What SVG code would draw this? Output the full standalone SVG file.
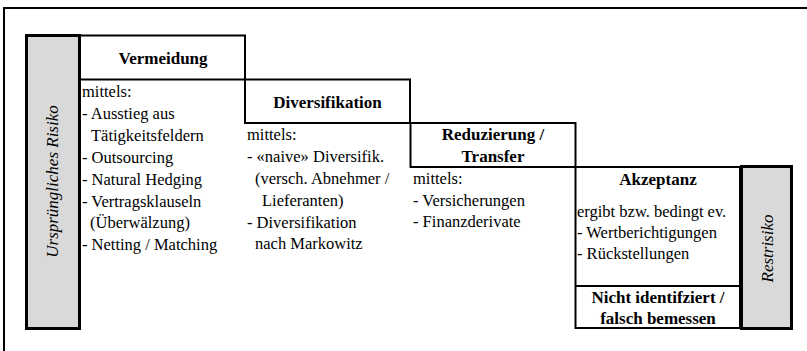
<svg xmlns="http://www.w3.org/2000/svg" width="807" height="351" viewBox="0 0 807 351">
<style>
.frame{fill:none;stroke:#000;stroke-width:2}
.box{fill:#fff;stroke:#000;stroke-width:2}
.gray{fill:#d9d9d9;stroke:#000;stroke-width:3}
.line{stroke:#000;stroke-width:2}
.h{font-size:17px;font-weight:bold;text-anchor:middle;fill:#000}
.b{font-size:16.5px;fill:#000}
.v{font-size:17px;font-style:italic;text-anchor:middle;fill:#000}
</style>
<rect width="807" height="351" fill="#fff"/>
<g id="frame"><rect class="frame" x="4" y="8" width="830" height="380"/></g>
<g id="connectors"></g>
<g id="vermeidung">
<rect class="box" x="80" y="35.5" width="165" height="44"/>
<text class="h" font-family="Liberation Serif, serif" x="163" y="64">Vermeidung</text>
<text class="b" font-family="Liberation Serif, serif" x="82" y="97">mittels:</text>
<text class="b" font-family="Liberation Serif, serif" x="82" y="119">- Ausstieg aus</text>
<text class="b" font-family="Liberation Serif, serif" x="91" y="141">Tätigkeitsfeldern</text>
<text class="b" font-family="Liberation Serif, serif" x="82" y="163">- Outsourcing</text>
<text class="b" font-family="Liberation Serif, serif" x="82" y="185">- Natural Hedging</text>
<text class="b" font-family="Liberation Serif, serif" x="82" y="207">- Vertragsklauseln</text>
<text class="b" font-family="Liberation Serif, serif" x="90" y="228">(Überwälzung)</text>
<text class="b" font-family="Liberation Serif, serif" x="82" y="250">- Netting / Matching</text>
</g>
<g id="diversifikation">
<rect class="box" x="245" y="79.5" width="165" height="43.5"/>
<text class="h" font-family="Liberation Serif, serif" x="327.5" y="108">Diversifikation</text>
<text class="b" font-family="Liberation Serif, serif" x="247" y="140">mittels:</text>
<text class="b" font-family="Liberation Serif, serif" x="247" y="162">- «naive» Diversifik.</text>
<text class="b" font-family="Liberation Serif, serif" x="255" y="184">(versch. Abnehmer /</text>
<text class="b" font-family="Liberation Serif, serif" x="262" y="206">Lieferanten)</text>
<text class="b" font-family="Liberation Serif, serif" x="247" y="228">- Diversifikation</text>
<text class="b" font-family="Liberation Serif, serif" x="255" y="249">nach Markowitz</text>
</g>
<g id="reduzierung">
<rect class="box" x="410.5" y="123" width="165" height="44"/>
<text class="h" font-family="Liberation Serif, serif" x="493" y="140">Reduzierung /</text>
<text class="h" font-family="Liberation Serif, serif" x="493" y="162">Transfer</text>
<text class="b" font-family="Liberation Serif, serif" x="413" y="184">mittels:</text>
<text class="b" font-family="Liberation Serif, serif" x="413" y="206">- Versicherungen</text>
<text class="b" font-family="Liberation Serif, serif" x="413" y="227">- Finanzderivate</text>
</g>
<g id="akzeptanz">
<rect class="box" x="575.5" y="167" width="164.5" height="161"/>
<text class="h" font-family="Liberation Serif, serif" x="658" y="185">Akzeptanz</text>
<text class="b" font-family="Liberation Serif, serif" x="577" y="217">ergibt bzw. bedingt ev.</text>
<text class="b" font-family="Liberation Serif, serif" x="577" y="238">- Wertberichtigungen</text>
<text class="b" font-family="Liberation Serif, serif" x="577" y="259">- Rückstellungen</text>
</g>
<g id="nicht-identifiziert">
<line class="line" x1="575.5" y1="286" x2="740" y2="286"/>
<text class="h" font-family="Liberation Serif, serif" x="658" y="303">Nicht identifziert /</text>
<text class="h" font-family="Liberation Serif, serif" x="658" y="324">falsch bemessen</text>
</g>
<g id="urspruengliches-risiko">
<rect class="gray" x="26.5" y="35.5" width="53" height="293"/>
<text class="v" font-family="Liberation Serif, serif" transform="translate(58,181.5) rotate(-90)">Ursprüngliches Risiko</text>
</g>
<g id="restrisiko">
<rect class="gray" x="741.5" y="166.5" width="50" height="162"/>
<text class="v" font-family="Liberation Serif, serif" transform="translate(773,248.5) rotate(-90)">Restrisiko</text>
</g>
</svg>
